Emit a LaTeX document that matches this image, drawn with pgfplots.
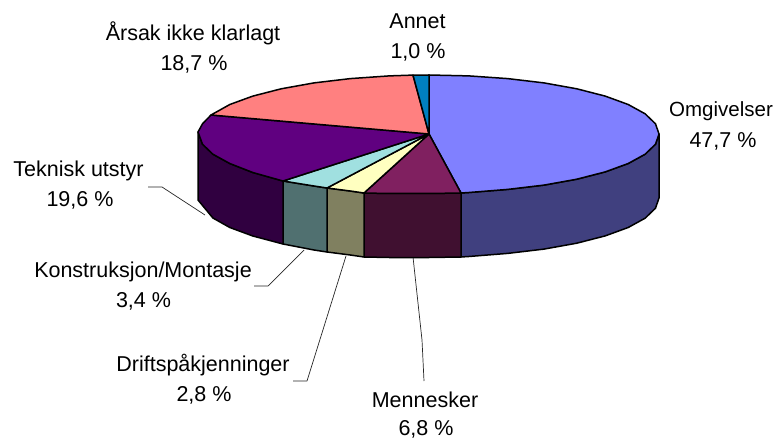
\documentclass[border=0pt]{standalone}
\usepackage{pgfplots}
\pgfplotsset{compat=1.18}
\usepackage{fontspec}
\setmainfont{Liberation Sans}
\definecolor{cOm}{HTML}{8080FF}\definecolor{sOm}{HTML}{40407F}
\definecolor{cMe}{HTML}{802060}\definecolor{sMe}{HTML}{401030}
\definecolor{cDr}{HTML}{FFFFC0}\definecolor{sDr}{HTML}{808060}
\definecolor{cKo}{HTML}{A0E0E0}\definecolor{sKo}{HTML}{507070}
\definecolor{cTe}{HTML}{600080}\definecolor{sTe}{HTML}{300040}
\definecolor{cAr}{HTML}{FF8080}\definecolor{cAn}{HTML}{0080C0}
\tikzset{
  lbl/.style={font=\fontsize{21.5}{21.5}\selectfont,text=black,inner sep=0pt,anchor=base},
  pie/.style={draw=black,line width=1.5pt,line join=round,line cap=round},
  lead/.style={draw=black!85,line width=0.7pt,line join=round}}
\begin{document}
\begin{tikzpicture}
\begin{axis}[scale only axis,width=778pt,height=438pt,xmin=0,xmax=778,ymin=0,ymax=438,y dir=reverse,
  hide axis,clip=false]
\path (axis cs:0,0) -- (axis cs:778,438);
% leader lines
\addplot[lead] coordinates {(148,187)(162,187)(205,215)};
\addplot[lead] coordinates {(254,286)(268,286)(304,250)};
\addplot[lead] coordinates {(293,381)(307,381)(346,256)};
\addplot[lead] coordinates {(413,257)(422,340)(424,381)};
% sides
\addplot[pie,fill=sOm] coordinates {(659,134)(655.5,144.2)(645.1,154.2)(628.2,163.5)(605.2,171.9)(576.8,179.2)(544,185.1)(507.7,189.4)(468.9,192.5)(461,193)(461,257)(468.9,256.5)(507.7,253.4)(544,249.1)(576.8,243.2)(605.2,235.9)(628.2,227.5)(645.1,218.2)(655.5,208.2)(659,198)(659,134)};
\addplot[pie,fill=sMe] coordinates {(461,193)(429,193.5)(389.1,193.5)(364,193)(364,257)(389.1,257.5)(429,257.5)(461,257)(461,193)};
\addplot[pie,fill=sDr] coordinates {(364,193)(350.3,191)(327,188)(327,252)(350.3,255)(364,257)(364,193)};
\addplot[pie,fill=sKo] coordinates {(327,188)(314,186)(283,181)(283,244)(314,250)(327,252)(327,188)};
\addplot[pie,fill=sTe] coordinates {(283,181)(252.8,172.5)(229.8,163.5)(212.9,154.2)(202.5,144.2)(198,132)(198,200)(212.9,218)(229.8,227.5)(252.8,236)(283,244)(283,181)};
% tops
\addplot[pie,fill=cOm] coordinates {(429,134)(429,75)(468.9,75.9)(507.7,78.6)(544,82.9)(576.8,88.8)(605.2,96.1)(628.2,104.5)(645.1,113.8)(655.5,123.8)(659,134)(655.5,144.2)(645.1,154.2)(628.2,163.5)(605.2,171.9)(576.8,179.2)(544,185.1)(507.7,189.4)(468.9,192.5)(461,193)(429,134)};
\addplot[pie,fill=cMe] coordinates {(429,134)(461,193)(429,193.5)(389.1,193.5)(364,193)(429,134)};
\addplot[pie,fill=cDr] coordinates {(429,134)(364,193)(350.3,191)(327,188)(429,134)};
\addplot[pie,fill=cKo] coordinates {(429,134)(327,188)(314,186)(283,181)(429,134)};
\addplot[pie,fill=cTe] coordinates {(429,134)(283,181)(252.8,172.5)(229.8,163.5)(212.9,154.2)(202.5,144.2)(198,132)(202.5,123.8)(211,115)(429,134)};
\addplot[pie,fill=cAr] coordinates {(429,134)(211,115)(229.8,104.5)(252.8,96.1)(281.2,88.8)(314,82.9)(350.3,78.6)(389.1,75.9)(413,75.1)(429,134)};
\addplot[pie,fill=cAn] coordinates {(429,134)(413,75.1)(429,75)(429,134)};
% labels
\node[lbl] at (axis cs:193,41) {Årsak ikke klarlagt};
\node[lbl] at (axis cs:194,71) {18,7 \%};
\node[lbl] at (axis cs:417.5,29) {Annet};
\node[lbl] at (axis cs:418,59) {1,0 \%};
\node[lbl,font=\fontsize{20.5}{20.5}\selectfont] at (axis cs:721,117) {Omgivelser};
\node[lbl] at (axis cs:723,148) {47,7 \%};
\node[lbl] at (axis cs:78.5,177) {Teknisk utstyr};
\node[lbl] at (axis cs:80,207) {19,6 \%};
\node[lbl] at (axis cs:143,277) {Konstruksjon/Montasje};
\node[lbl] at (axis cs:143.5,307) {3,4 \%};
\node[lbl] at (axis cs:203,371) {Driftspåkjenninger};
\node[lbl] at (axis cs:204,401) {2,8 \%};
\node[lbl] at (axis cs:425,407) {Mennesker};
\node[lbl] at (axis cs:426,435) {6,8 \%};
\end{axis}
\end{tikzpicture}
\end{document}
